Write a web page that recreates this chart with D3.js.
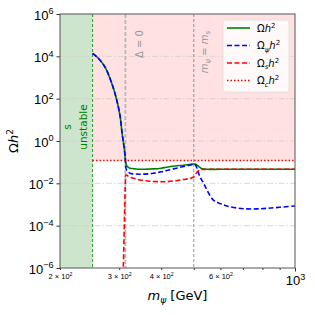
<!DOCTYPE html>
<html lang="en">
<head>
<meta charset="UTF-8">
<title>Relic abundance</title>
<script src="https://d3js.org/d3.v7.min.js"></script>
<style>
  body { margin: 0; background: #fff; }
  svg { font-family: "DejaVu Sans", sans-serif; }
  path.curve { fill: none; stroke-width: 1.6px; }
  path.total { stroke: green; }
  path.psi { stroke: blue; stroke-dasharray: 5,2.5; }
  path.s { stroke: red; stroke-dasharray: 5,2.5; }
</style>
</head>
<body>
<svg width="315" height="315"></svg>
<script>
// m_psi [GeV] and Omega h^2 for each series
let mTotal = [250, 260, 272, 285, 295, 302, 306, 309, 311, 313, 315, 318, 323, 335, 346, 365, 379, 400, 415, 440, 466, 490, 504, 515, 525, 535, 547, 600, 700, 800, 1000];
let omegaTotal = [1.38e4, 8.1e3, 3.2e3, 540, 87, 14, 2.3, 0.79, 0.38, 0.126, 0.074, 0.060, 0.052, 0.048, 0.046, 0.047, 0.048, 0.052, 0.058, 0.066, 0.072, 0.079, 0.081, 0.066, 0.052, 0.047, 0.046, 0.046, 0.046, 0.046, 0.046];

let mPsi = [250, 260, 272, 285, 295, 302, 306, 309, 311, 313, 315, 323, 335, 346, 365, 379, 400, 415, 440, 466, 490, 504, 515, 522, 535, 547, 572, 600, 627, 670, 719, 770, 826, 900, 1000];
let omegaPsi = [1.38e4, 8.1e3, 3.2e3, 540, 87, 14, 2.3, 0.79, 0.38, 0.126, 0.045, 0.030, 0.0275, 0.027, 0.028, 0.030, 0.035, 0.040, 0.050, 0.062, 0.074, 0.079, 0.035, 0.020, 0.010, 0.0049, 0.0016, 0.0011, 8.5e-4, 6.9e-4, 6.2e-4, 6.2e-4, 6.6e-4, 7.4e-4, 8.5e-4];

let mS = [306, 308.5, 310, 311.5, 313, 314, 318, 323, 335, 346, 365, 379, 400, 415, 440, 466, 490, 500, 510, 518, 530, 547, 700, 1000];
let omegaS = [1e-7, 1e-6, 2.5e-5, 6.3e-4, 0.0126, 0.025, 0.0224, 0.0195, 0.0166, 0.0145, 0.0129, 0.0123, 0.012, 0.012, 0.0132, 0.0151, 0.0174, 0.020, 0.0316, 0.041, 0.045, 0.046, 0.046, 0.046];

let omegaC = 0.12;        // observed abundance
let mUnstable = 250;      // s unstable below this
let mDelta0 = 313;        // Delta = 0
let mEqual = 500;         // m_psi = m_s

let yTicks = [1e-6, 1e-4, 1e-2, 1e0, 1e2, 1e4, 1e6];
let xTicks = [200, 300, 400, 500, 600, 700, 800, 900, 1000];
let xTickLabels = {200: "2", 300: "3", 400: "4", 600: "6"};

let legendItems = [
  {cls: "total", parts: [{t: "Ω"}, {t: "h", it: true}, {t: "2", sup: true}]},
  {cls: "psi", parts: [{t: "Ω"}, {t: "ψ", sub: true, it: true}, {t: "h", it: true}, {t: "2", sup: true}]},
  {cls: "s", parts: [{t: "Ω"}, {t: "s", sub: true, it: true}, {t: "h", it: true}, {t: "2", sup: true}]},
  {cls: "c", parts: [{t: "Ω"}, {t: "c", sub: true, it: true}, {t: "h", it: true}, {t: "2", sup: true}]}
];

let svg = d3.select("svg");
let plot = {left: 60, right: 295, top: 14, bottom: 268};

let x = d3.scaleLog().domain([200, 1000]).range([plot.left, plot.right]);
let y = d3.scaleLog().domain([1e-6, 1e6]).range([plot.bottom, plot.top]);

// write text with sub/superscripts as tspans
function mathText(sel, parts, fs) {
  let cur = 0;
  parts.forEach(function (p) {
    let target = p.sub ? 0.25 * fs : p.sup ? -0.42 * fs : 0;
    let ts = sel.append("tspan").text(p.t);
    if (target - cur !== 0) ts.attr("dy", target - cur);
    if (p.sub || p.sup) ts.attr("font-size", 0.7 * fs);
    if (p.it) ts.attr("font-style", "italic");
    cur = target;
  });
  return sel;
}

svg.append("defs").append("clipPath").attr("id", "clip")
  .append("rect").attr("x", plot.left).attr("y", plot.top)
  .attr("width", plot.right - plot.left).attr("height", plot.bottom - plot.top);

// shaded regions
svg.append("rect")
  .attr("x", x(200)).attr("y", plot.top)
  .attr("width", x(mUnstable) - x(200)).attr("height", plot.bottom - plot.top)
  .attr("fill", "#cce5cc");
svg.append("rect")
  .attr("x", x(mUnstable)).attr("y", y(1e6))
  .attr("width", x(1000) - x(mUnstable)).attr("height", y(omegaC) - y(1e6))
  .attr("fill", "#ffe1e2");

// horizontal grid
svg.append("g").selectAll("line").data(yTicks.slice(1, -1)).join("line")
  .attr("x1", plot.left).attr("x2", plot.right)
  .attr("y1", d => y(d)).attr("y2", d => y(d))
  .attr("stroke", "#cfcfcf").attr("stroke-width", 0.8)
  .attr("stroke-dasharray", "6,2,1.5,2");

// vertical marker lines
svg.append("line")
  .attr("x1", x(mUnstable)).attr("x2", x(mUnstable)).attr("y1", plot.top).attr("y2", plot.bottom)
  .attr("stroke", "green").attr("stroke-width", 0.8).attr("stroke-dasharray", "3,2");
svg.append("line")
  .attr("x1", x(mDelta0)).attr("x2", x(mDelta0)).attr("y1", plot.top).attr("y2", plot.bottom)
  .attr("stroke", "#b8b8b8").attr("stroke-width", 1.8).attr("stroke-dasharray", "4,2");
svg.append("line")
  .attr("x1", x(mEqual)).attr("x2", x(mEqual)).attr("y1", plot.top).attr("y2", plot.bottom)
  .attr("stroke", "#777").attr("stroke-width", 0.8).attr("stroke-dasharray", "3,2");

// curves
let fig = svg.append("g").attr("clip-path", "url(#clip)");
function lineFor(ms) {
  return d3.line().curve(d3.curveCatmullRom.alpha(0.5))
    .x((d, i) => x(ms[i])).y(d => y(d));
}
fig.append("path").attr("class", "curve total").attr("d", lineFor(mTotal)(omegaTotal));
fig.append("path").attr("class", "curve psi").attr("d", lineFor(mPsi)(omegaPsi));
fig.append("path").attr("class", "curve s").attr("d", lineFor(mS)(omegaS));
fig.append("line")
  .attr("x1", x(mUnstable)).attr("x2", x(1000)).attr("y1", y(omegaC)).attr("y2", y(omegaC))
  .attr("stroke", "red").attr("stroke-width", 1.6).attr("stroke-dasharray", "1.5,2");

// annotations
function rotText(px, py, color) {
  return svg.append("text")
    .attr("transform", "translate(" + px + "," + py + ") rotate(-90)")
    .attr("text-anchor", "middle").attr("font-size", 10.5).attr("fill", color);
}
rotText(71, 127, "green").text("s");
rotText(86.5, 127, "green").text("unstable");
mathText(rotText(143, 44, "#999").attr("font-size", 10), [{t: "Δ = 0"}], 10);
mathText(rotText(207.5, 52, "#999").attr("font-size", 10),
  [{t: "m", it: true}, {t: "ψ", sub: true, it: true}, {t: " = "}, {t: "m", it: true}, {t: "s", sub: true, it: true}], 10);

// axes
let yAxis = svg.append("g")
  .attr("transform", "translate(" + plot.left + ",0)")
  .call(d3.axisLeft(y).tickValues(yTicks).tickSize(3.5).tickPadding(3).tickFormat(""));
yAxis.select(".domain").remove();
yAxis.selectAll(".tick line").attr("stroke", "#333");
yAxis.selectAll(".tick text").each(function (d) {
  let e = Math.round(Math.log10(d));
  let t = d3.select(this).attr("font-size", 13).attr("fill", "#000").attr("dy", "0.4em");
  mathText(t, [{t: "10"}, {t: (e < 0 ? "\u2212" : "") + Math.abs(e), sup: true}], 13);
});

let xAxis = svg.append("g")
  .attr("transform", "translate(0," + plot.bottom + ")")
  .call(d3.axisBottom(x).tickValues(xTicks).tickSize(2).tickPadding(3).tickFormat(""));
xAxis.select(".domain").remove();
xAxis.selectAll(".tick line").attr("stroke", "#333").attr("y2", d => d === 1000 ? 3.5 : 2);
xAxis.selectAll(".tick text").each(function (d) {
  let t = d3.select(this).attr("fill", "#000").attr("dy", null);
  if (d === 1000) {
    t.attr("font-size", 13).attr("y", 17);
    mathText(t, [{t: "10"}, {t: "3", sup: true}], 13);
  } else if (xTickLabels[d]) {
    t.attr("font-size", 7.5).attr("y", 11);
    mathText(t, [{t: xTickLabels[d] + " \u00d7 10"}, {t: "2", sup: true}], 7.5);
  }
});

// frame
svg.append("rect")
  .attr("x", plot.left).attr("y", plot.top)
  .attr("width", plot.right - plot.left).attr("height", plot.bottom - plot.top)
  .attr("fill", "none").attr("stroke", "#555").attr("stroke-width", 1);

// axis labels
mathText(svg.append("text").attr("x", (plot.left + plot.right) / 2).attr("y", 300)
  .attr("text-anchor", "middle").attr("font-size", 13),
  [{t: "m", it: true}, {t: "ψ", sub: true, it: true}, {t: " [GeV]"}], 13);
mathText(svg.append("text").attr("transform", "translate(18,141) rotate(-90)")
  .attr("text-anchor", "middle").attr("font-size", 13),
  [{t: "Ω"}, {t: "h", it: true}, {t: "2", sup: true}], 13);

// legend
let leg = svg.append("g").attr("transform", "translate(223,20)");
leg.append("rect").attr("width", 66).attr("height", 72).attr("rx", 2.5)
  .attr("fill", "#fff").attr("fill-opacity", 0.8).attr("stroke", "#ddd").attr("stroke-width", 0.8);
let dash = {total: null, psi: "5,2.5", s: "5,2.5", c: "1.5,2"};
let col = {total: "green", psi: "blue", s: "red", c: "red"};
legendItems.forEach(function (it, i) {
  let yy = 8 + i * 17.5;
  leg.append("line").attr("x1", 4).attr("x2", 27).attr("y1", yy).attr("y2", yy)
    .attr("stroke", col[it.cls]).attr("stroke-width", 1.6).attr("stroke-dasharray", dash[it.cls]);
  mathText(leg.append("text").attr("x", 34).attr("y", yy + 3.8).attr("font-size", 10), it.parts, 10);
});
</script>
</body>
</html>
